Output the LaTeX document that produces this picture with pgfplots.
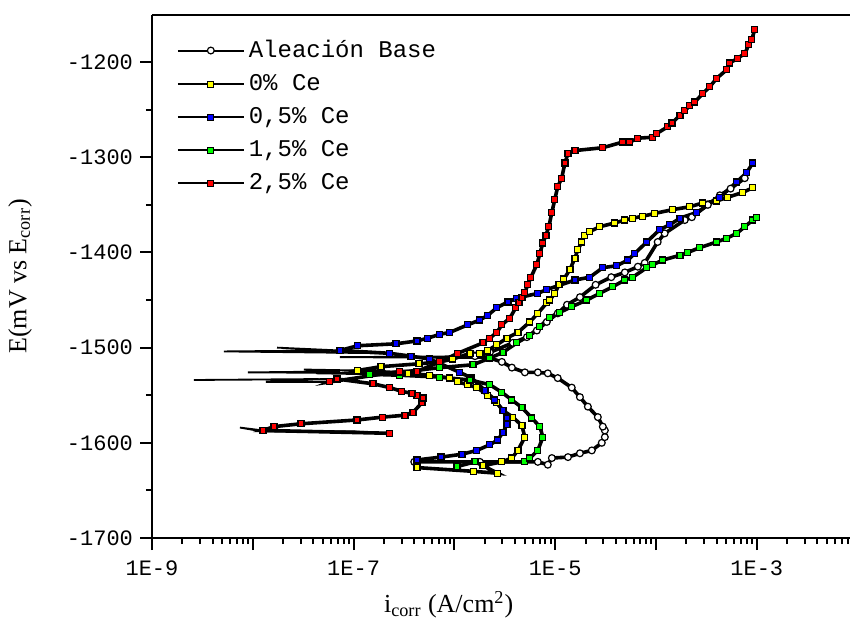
\documentclass[border=0pt]{standalone}
\usepackage{fontspec}
\setmainfont{Liberation Serif}
\setmonofont{Liberation Mono}
\usepackage{pgfplots}
\pgfplotsset{compat=1.18}

\definecolor{cyel}{RGB}{255,255,0}
\definecolor{cblu}{RGB}{0,0,255}
\definecolor{cgrn}{RGB}{0,255,0}
\definecolor{cred}{RGB}{255,0,0}

\pgfplotsset{
  curve/.style={black, line width=1.8pt, mark=square*, mark size=1.5pt,
    mark options={fill=#1, draw=black, line width=0.6pt, solid}},
  spike/.style={black, line width=0.9pt, no marks, forget plot},
}

\begin{document}
\begin{tikzpicture}
\path[use as bounding box] (0,0) rectangle (425pt,309pt);
\begin{axis}[
  at={(76pt,40pt)}, anchor=south west,
  scale only axis, width=349pt, height=261.5pt,
  xmode=log, xmin=1e-9, xmax=8.41e-3,
  ymin=-1700, ymax=-1150.6,
  axis x line*=box, axis y line*=left,
  axis line style={line width=1pt},
  xtick={1e-9,1e-8,1e-7,1e-6,1e-5,1e-4,1e-3},
  xticklabels={1E-9,,1E-7,,1E-5,,1E-3},
  minor xtick={2e-9,3e-9,4e-9,5e-9,6e-9,7e-9,8e-9,9e-9,
    2e-8,3e-8,4e-8,5e-8,6e-8,7e-8,8e-8,9e-8,
    2e-7,3e-7,4e-7,5e-7,6e-7,7e-7,8e-7,9e-7,
    2e-6,3e-6,4e-6,5e-6,6e-6,7e-6,8e-6,9e-6,
    2e-5,3e-5,4e-5,5e-5,6e-5,7e-5,8e-5,9e-5,
    2e-4,3e-4,4e-4,5e-4,6e-4,7e-4,8e-4,9e-4,
    2e-3,3e-3,4e-3,5e-3,6e-3,7e-3,8e-3},
  ytick={-1700,-1600,-1500,-1400,-1300,-1200},
  yticklabels={-1700,-1600,-1500,-1400,-1300,-1200},
  minor ytick={-1650,-1550,-1450,-1350,-1250},
  tick align=outside, xtick pos=left, ytick pos=left,
  major tick length=6pt, minor tick length=3pt,
  every tick/.style={black, line width=1pt},
  ticklabel style={font=\fontsize{11}{13}\selectfont\ttfamily},
  xticklabel style={yshift=-2pt},
  xlabel={i\textsubscript{corr} (A/cm\textsuperscript{2})},
  ylabel={E(mV vs E\textsubscript{corr})},
  label style={font=\fontsize{13}{15}\selectfont},
  xlabel style={at={(axis description cs:0.425,-0.128)}, anchor=center},
  ylabel style={at={(axis description cs:-0.189,0.5)}, anchor=center},
  legend style={draw=none, fill=none, at={(axis description cs:0.035,0.96)},
    anchor=north west, font=\fontsize{12}{14}\selectfont\ttfamily,
    row sep=3pt, inner sep=0pt},
  legend cell align=left,
  legend image code/.code={
    \draw[mark repeat=2, mark phase=2, #1, line width=1pt]
      plot coordinates {(0pt,0pt) (16.5pt,0pt) (33pt,0pt)};
  },
]

% Aleacion base
\addplot[spike] coordinates {(2.25e-6,-1511) (7.33e-8,-1510) (1.60e-6,-1509)};
\addplot[black, line width=1.8pt, mark=*, mark size=1.7pt,
  mark options={fill=white, draw=black, line width=0.6pt, solid}] coordinates {
  (4.0e-7,-1620) (1.79e-6,-1620) (6.73e-6,-1620) (8.45e-6,-1623) (9.27e-6,-1616)
  (1.34e-5,-1615) (1.76e-5,-1611) (2.31e-5,-1608) (2.90e-5,-1600) (3.11e-5,-1594)
  (3.11e-5,-1587) (2.97e-5,-1583) (2.65e-5,-1573) (2.11e-5,-1562) (1.76e-5,-1552)
  (1.46e-5,-1542) (1.06e-5,-1532) (8.45e-6,-1527) (6.73e-6,-1526) (5.00e-6,-1526)
  (3.72e-6,-1521) (2.96e-6,-1515) (2.25e-6,-1511) (1.60e-6,-1509) (2.25e-6,-1505)
  (3.80e-6,-1495) (5.24e-6,-1489) (6.58e-6,-1482) (8.26e-6,-1473) (1.06e-5,-1464)
  (1.31e-5,-1455) (1.76e-5,-1447) (2.52e-5,-1434) (3.60e-5,-1426) (4.91e-5,-1421)
  (6.61e-5,-1415) (7.74e-5,-1411) (1.04e-4,-1389) (1.22e-4,-1380) (1.93e-4,-1366)
  (2.27e-4,-1363) (3.27e-4,-1350) (4.30e-4,-1340) (5.50e-4,-1333) (7.60e-4,-1322)};
\addlegendentry{Aleación Base}

% 0 % Ce
\addplot[spike] coordinates {(3.46e-7,-1527) (8.95e-9,-1526) (7.33e-8,-1525) (3.22e-8,-1523) (1.10e-7,-1524)};
\addplot[curve=cyel] coordinates {
  (4.25e-7,-1626) (1.56e-6,-1630) (2.70e-6,-1632) (1.92e-6,-1624) (2.96e-6,-1620)
  (3.72e-6,-1616) (4.27e-6,-1608) (5.00e-6,-1594) (4.68e-6,-1582) (3.80e-6,-1573)
  (3.03e-6,-1566) (2.64e-6,-1558) (2.15e-6,-1550) (1.67e-6,-1542) (1.36e-6,-1539)
  (1.08e-6,-1536) (9.02e-7,-1532) (5.71e-7,-1529) (3.46e-7,-1527) (1.10e-7,-1524)
  (1.87e-7,-1520) (4.45e-7,-1517) (7.18e-7,-1515) (9.66e-7,-1512) (1.43e-6,-1506)
  (1.79e-6,-1506) (2.15e-6,-1503) (2.64e-6,-1497) (3.32e-6,-1490) (4.27e-6,-1484)
  (5.61e-6,-1473) (6.73e-6,-1464) (8.26e-6,-1453) (8.85e-6,-1450) (9.93e-6,-1443)
  (1.09e-5,-1434) (1.22e-5,-1428) (1.40e-5,-1418) (1.57e-5,-1406) (1.68e-5,-1397)
  (1.84e-5,-1389) (1.97e-5,-1382) (2.21e-5,-1378) (2.77e-5,-1373) (3.91e-5,-1369)
  (4.91e-5,-1366) (5.89e-5,-1364) (7.41e-5,-1362) (9.75e-5,-1359) (1.47e-4,-1355)
  (2.17e-4,-1352) (2.92e-4,-1348) (4.01e-4,-1346) (5.16e-4,-1342) (7.26e-4,-1337)
  (9.14e-4,-1332)};
\addlegendentry{0\% Ce}

% 0,5 % Ce
\addplot[spike] coordinates {(2.29e-7,-1506) (5.18e-9,-1504) (5.82e-8,-1503) (1.74e-8,-1500) (7.33e-8,-1503)};
\addplot[curve=cblu] coordinates {
  (4.25e-7,-1618) (7.35e-7,-1615) (1.19e-6,-1612) (1.67e-6,-1608) (2.25e-6,-1602)
  (2.70e-6,-1597) (3.03e-6,-1589) (3.32e-6,-1581) (3.32e-6,-1574) (3.03e-6,-1566)
  (2.52e-6,-1555) (2.01e-6,-1545) (1.49e-6,-1532) (1.13e-6,-1526) (5.71e-7,-1512)
  (3.71e-7,-1509) (2.29e-7,-1506) (7.33e-8,-1503) (1.10e-7,-1498) (2.63e-7,-1496)
  (4.25e-7,-1493) (5.46e-7,-1490) (7.18e-7,-1486) (9.02e-7,-1484) (1.36e-6,-1476)
  (1.79e-6,-1471) (2.15e-6,-1466) (2.64e-6,-1458) (3.40e-6,-1452) (4.17e-6,-1448)
  (6.73e-6,-1443) (8.26e-6,-1439) (1.57e-5,-1429) (2.21e-5,-1426) (2.97e-5,-1416)
  (4.09e-5,-1414) (5.26e-5,-1408) (6.17e-5,-1401) (8.11e-5,-1389) (1.09e-4,-1376)
  (1.37e-4,-1371) (1.73e-4,-1364) (2.54e-4,-1358) (4.30e-4,-1342) (6.34e-4,-1326)
  (7.96e-4,-1316) (9.14e-4,-1306)};
\addlegendentry{0,5\% Ce}

% 1,5 % Ce
\addplot[spike] coordinates {(1.45e-7,-1528) (4.23e-8,-1527) (1.45e-7,-1527)};
\addplot[curve=cgrn] coordinates {
  (1.06e-6,-1625) (1.60e-6,-1620) (5.00e-6,-1620) (5.61e-6,-1616) (6.73e-6,-1608)
  (7.55e-6,-1594) (7.05e-6,-1583) (5.87e-6,-1574) (4.68e-6,-1563) (3.72e-6,-1555)
  (2.96e-6,-1547) (2.25e-6,-1539) (1.43e-6,-1534) (7.18e-7,-1531) (2.88e-7,-1529)
  (1.45e-7,-1528) (2.88e-7,-1526) (7.18e-7,-1521) (1.53e-6,-1518) (2.25e-6,-1511)
  (3.03e-6,-1505) (4.17e-6,-1495) (5.61e-6,-1487) (7.05e-6,-1478) (8.85e-6,-1468)
  (1.11e-5,-1463) (1.46e-5,-1457) (2.06e-5,-1450) (2.77e-5,-1443) (3.73e-5,-1436)
  (4.91e-5,-1429) (5.89e-5,-1426) (8.11e-5,-1416) (9.31e-5,-1413) (1.17e-4,-1408)
  (1.73e-4,-1403) (2.07e-4,-1400) (2.72e-4,-1395) (4.01e-4,-1389) (5.05e-4,-1385)
  (6.34e-4,-1380) (7.60e-4,-1373) (9.14e-4,-1366) (1.00e-3,-1363)};
\addlegendentry{1,5\% Ce}

% 2,5 % Ce
\addplot[spike] coordinates {(2.29e-7,-1590) (1.03e-7,-1588) (1.23e-8,-1588) (7.46e-9,-1584) (1.26e-8,-1587)};
\addplot[spike] coordinates {(6.84e-8,-1533) (2.61e-9,-1534) (4.50e-8,-1533) (1.35e-8,-1536) (5.82e-8,-1536)};
\addplot[curve=cred] coordinates {
  (2.29e-7,-1590) (1.26e-8,-1587) (1.62e-8,-1583) (3.01e-8,-1580) (1.08e-7,-1576)
  (1.95e-7,-1573) (3.23e-7,-1571) (3.88e-7,-1568) (4.77e-7,-1558) (4.88e-7,-1553)
  (4.25e-7,-1550) (3.79e-7,-1548) (3.01e-7,-1546) (2.29e-7,-1542) (1.56e-7,-1538)
  (6.84e-8,-1533) (5.82e-8,-1536) (2.88e-7,-1525) (4.25e-7,-1525) (7.18e-7,-1515)
  (1.08e-6,-1506) (1.92e-6,-1495) (2.25e-6,-1490) (2.64e-6,-1484) (2.96e-6,-1476)
  (3.55e-6,-1469) (4.07e-6,-1458) (4.37e-6,-1453) (4.68e-6,-1447) (5.00e-6,-1442)
  (5.36e-6,-1434) (5.74e-6,-1426) (6.58e-6,-1413) (7.05e-6,-1401) (7.55e-6,-1390)
  (8.09e-6,-1382) (8.65e-6,-1373) (9.27e-6,-1358) (9.93e-6,-1344) (1.06e-5,-1331)
  (1.16e-5,-1322) (1.25e-5,-1306) (1.34e-5,-1296) (1.57e-5,-1293) (2.97e-5,-1290)
  (4.69e-5,-1284) (5.51e-5,-1284) (6.61e-5,-1280) (9.31e-5,-1279) (1.02e-4,-1275)
  (1.31e-4,-1268) (1.44e-4,-1264) (1.73e-4,-1256) (1.93e-4,-1251) (2.17e-4,-1246)
  (2.43e-4,-1242) (2.92e-4,-1233) (3.42e-4,-1226) (4.01e-4,-1217) (5.05e-4,-1208)
  (5.40e-4,-1201) (6.49e-4,-1196) (7.60e-4,-1191) (8.34e-4,-1182) (8.93e-4,-1176)
  (9.55e-4,-1166)};
\addlegendentry{2,5\% Ce}

\end{axis}
\end{tikzpicture}
\end{document}
